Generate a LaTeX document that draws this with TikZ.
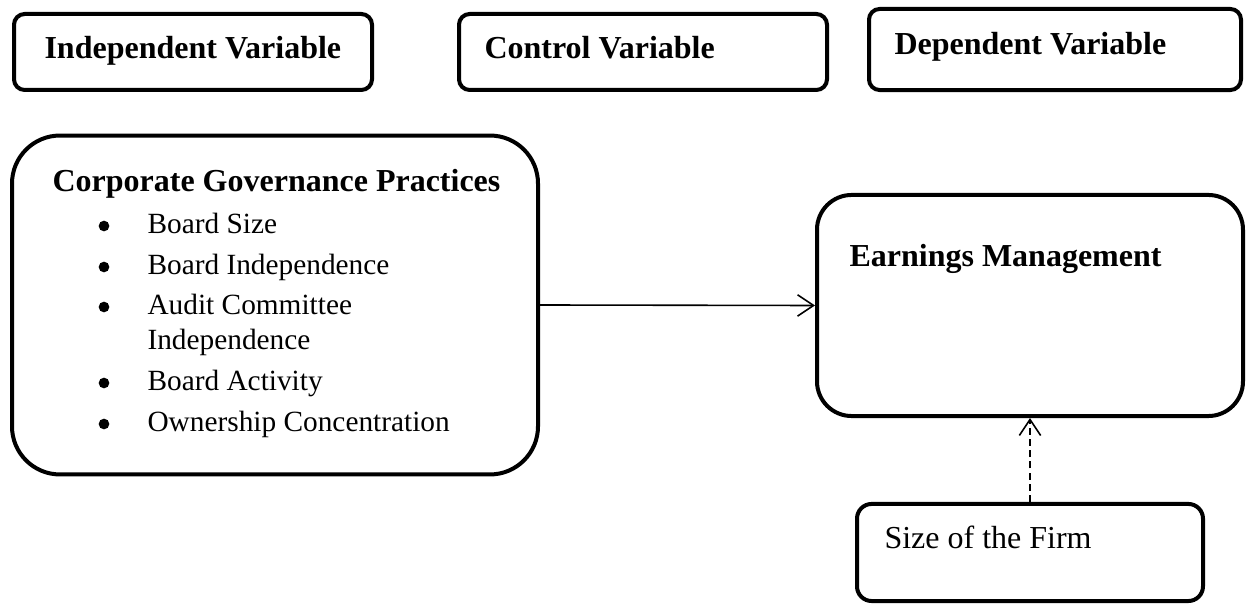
\documentclass[tikz,border=0pt]{standalone}
\usepackage{fontspec}
\setmainfont{Liberation Serif}
\usetikzlibrary{arrows.meta}
\tikzset{box/.style={draw, line width=1.5pt, rounded corners=#1, inner sep=0pt},
  box/.default=4pt,
  title/.style={anchor=base west, inner sep=0pt, font=\fontsize{12}{14}\selectfont\bfseries},
  plain/.style={anchor=base west, inner sep=0pt, font=\fontsize{12}{14}\selectfont},
  entry/.style={anchor=base west, inner sep=0pt, font=\fontsize{11}{13}\selectfont},
  bulletdot/.style={circle, fill=black, inner sep=0pt, minimum size=4pt},
  link/.style={line width=0.6pt, -{Straight Barb[length=6pt,width=8pt]}}}

\begin{document}
\begin{tikzpicture}[x=0.375pt, y=-0.375pt]
  \useasboundingbox (0,0) rectangle (1249,609);
  \node[box, minimum width=134.25pt, minimum height=28.5pt] (iv) at (193,52) {};
  \node[box, minimum width=138pt, minimum height=28.5pt] (cv) at (643,52) {};
  \node[box, minimum width=139.5pt, minimum height=30.4pt] (dv) at (1055,49.5) {};
  \node[title] (ivtext) at (44,59) {Independent Variable};
  \node[title] (cvtext) at (484,59) {Control Variable};
  \node[title] (dvtext) at (894,55) {Dependent Variable};

  \node[box=18pt, minimum width=197.25pt, minimum height=127.1pt] (cgp) at (275,305) {};
  \node[title] (cgptext) at (52,192) {Corporate Governance Practices};
  \foreach \y/\txt [count=\i] in {234/Board Size, 275/Board Independence, 315/Audit Committee,
      391/Board Activity, 432/Ownership Concentration} {
    \node[bulletdot] (dot\i) at (104,\y-8) {};
    \node[entry] (entry\i) at (147,\y) {\txt};
  }
  \node[entry] (entry3b) at (147,350) {Independence};

  \node[box=13pt, minimum width=159.75pt, minimum height=82.9pt] (em) at (1030,305.5) {};
  \node[title] (emtext) at (849,267) {Earnings Management};
  \node[box=5.5pt, minimum width=129.75pt, minimum height=36.4pt] (size) at (1030,552.5) {};
  \node[plain] (sizetext) at (884,549) {Size of the Firm};

  \draw[link] (cgp.east) -- (em.west);
  \draw[link, dash pattern=on 2.6pt off 1.6pt] (size.north) -- (em.south);
\end{tikzpicture}
\end{document}
